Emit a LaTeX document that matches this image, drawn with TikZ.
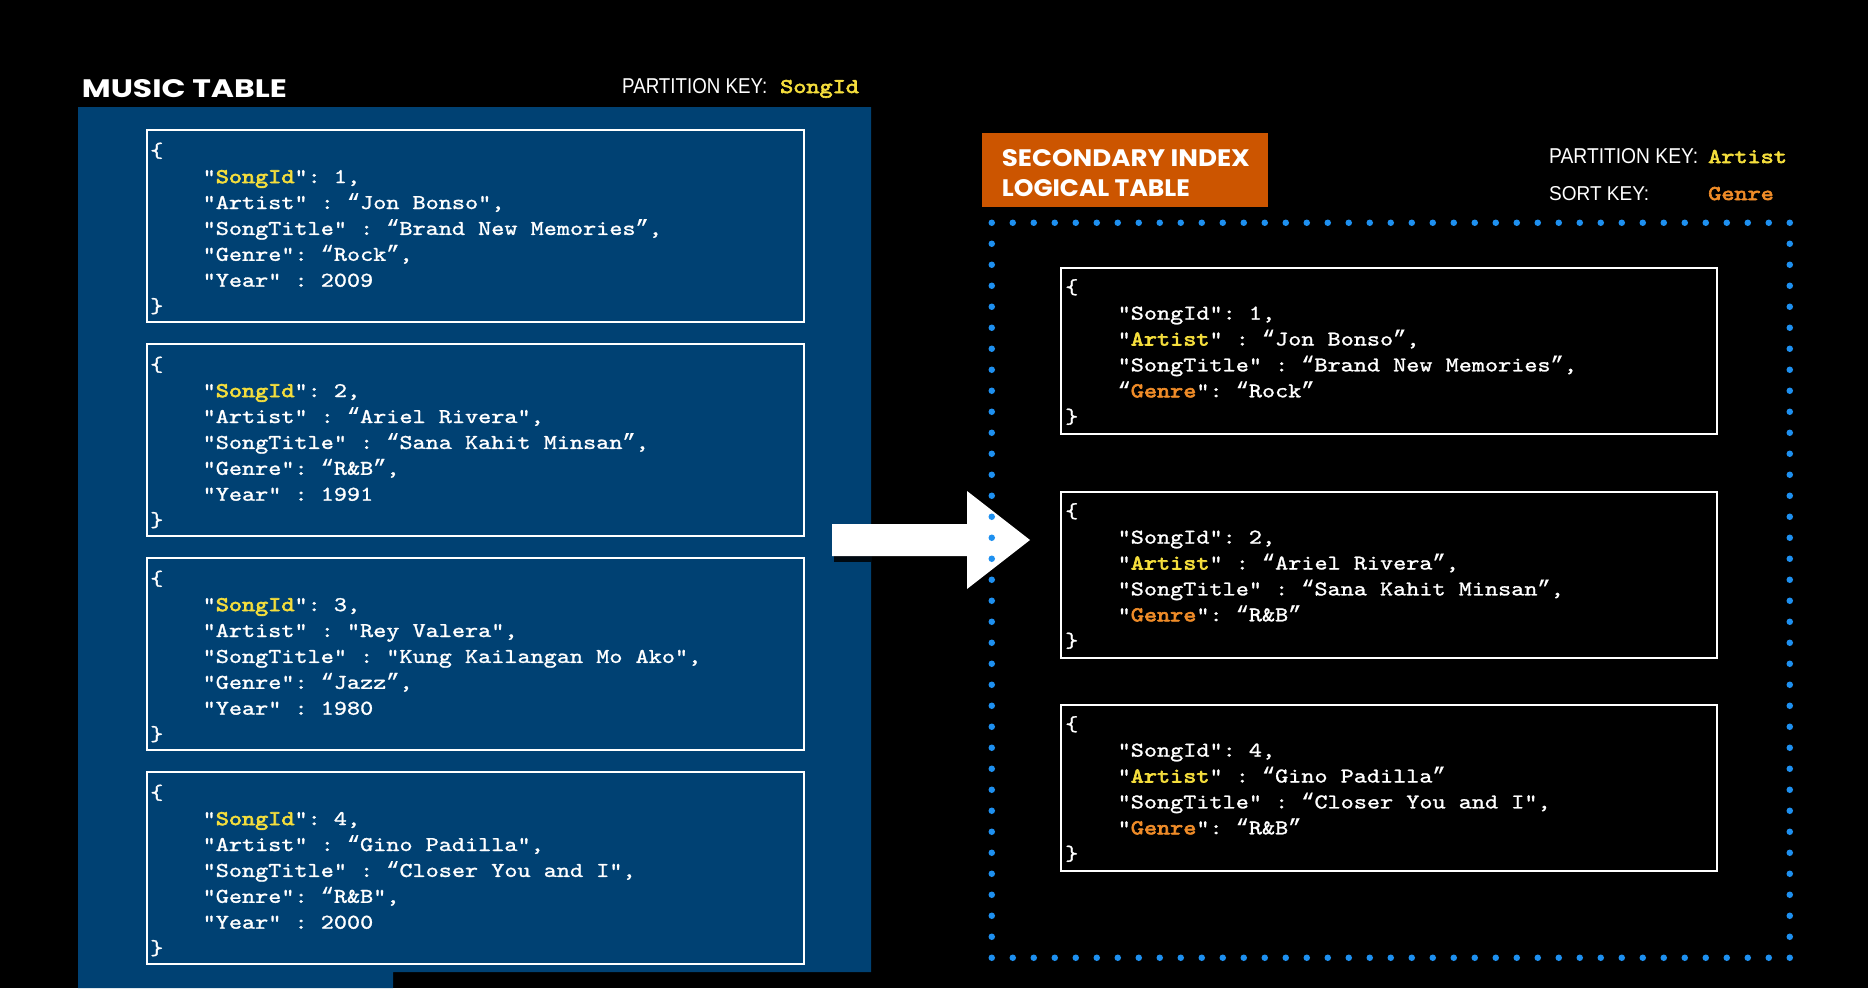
\documentclass[tikz,border=0pt]{standalone}
\usepackage{fontspec}
\newfontfamily\jmono{lmmono10-regular.otf}[FakeStretch=1.19, FakeBold=1.2]
\newfontfamily\jmonob{lmmono10-regular.otf}[FakeStretch=1.19, FakeBold=3]
\newfontfamily\qfont{Liberation Mono}[FakeBold=0.6]
\newfontfamily\hdr{Poppins}
\newfontfamily\hel{Liberation Sans}
\definecolor{panelblue}{RGB}{0,65,115}
\definecolor{keyy}{RGB}{245,222,60}
\definecolor{keyo}{RGB}{240,140,40}
\definecolor{boxorange}{RGB}{204,85,0}
\definecolor{dotblue}{RGB}{30,144,240}
\newcommand\ky[1]{\textcolor{keyy}{{\jmonob #1}}}
\newcommand\kg[1]{\textcolor{keyo}{{\jmonob #1}}}
\newcommand\oq{{\qfont\fontsize{21.85}{25.9}\selectfont “}}
\newcommand\cq{{\qfont\fontsize{21.85}{25.9}\selectfont ”}}
\newcommand\jstrut{\rule{0pt}{18pt}}
\newcommand\ind{\phantom{0000}}
\tikzset{
  jt/.style={anchor=north west, inner sep=0pt, align=left, text=white,
    font=\jmono\fontsize{21}{25.9}\selectfont\frenchspacing},
  lbox/.style={draw=white, line width=2.2pt, fill=panelblue, anchor=north west,
    minimum width=657pt, minimum height=192pt, inner sep=0pt},
  rbox/.style={draw=white, line width=2.4pt, fill=black, anchor=north west,
    minimum width=656pt, minimum height=166pt, inner sep=0pt},
  lbl/.style={anchor=base west, inner sep=0pt, text=white},
  keylbl/.style={anchor=base west, inner sep=0pt,
    font=\jmonob\fontsize{21}{26}\selectfont},
  obox/.style={fill=boxorange, anchor=north west, minimum width=286pt,
    minimum height=74.3pt, inner sep=0pt},
  dotbox/.style={draw=dotblue, dash pattern=on 0pt off 21pt, line cap=round,
    line width=6.5pt, anchor=north west, minimum width=798pt,
    minimum height=735pt, inner sep=0pt}
}
\begin{document}
\begin{tikzpicture}[x=1pt,y=-1pt]
\fill[black] (0,0) rectangle (1868,988);
\useasboundingbox (0,0) rectangle (1868,988);

% headers
\node[lbl] (mt) at (81.7,97) {\resizebox{205pt}{18pt}{\hdr\bfseries\fontsize{24}{24}\selectfont MUSIC TABLE}};
\node[lbl] (pk1) at (622,93) {\resizebox{145pt}{15pt}{\hel\fontsize{21}{21}\selectfont PARTITION KEY:}};
\node[keylbl, text=keyy] (pk1v) at (780,93) {SongId};

% blue panel
\fill[panelblue] (78,107) -- (871,107) -- (871,972) -- (393,972) -- (393,988) -- (78,988) -- cycle;

% left boxes
\node[lbox] (m1) at (146,129) {};
\node[lbox] (m2) at (146,343) {};
\node[lbox] (m3) at (146,557) {};
\node[lbox] (m4) at (146,771) {};

\node[jt] (m1t) at ([xshift=4pt,yshift=-10pt]m1.north west) {\jstrut\{\\
\ind"\ky{SongId}": 1,\\
\ind"Artist" : \oq Jon Bonso",\\
\ind"SongTitle" : \oq Brand New Memories\cq,\\
\ind"Genre": \oq Rock\cq,\\
\ind"Year" : 2009\\
\}};
\node[jt] (m2t) at ([xshift=4pt,yshift=-10pt]m2.north west) {\jstrut\{\\
\ind"\ky{SongId}": 2,\\
\ind"Artist" : \oq Ariel Rivera",\\
\ind"SongTitle" : \oq Sana Kahit Minsan\cq,\\
\ind"Genre": \oq R\&B\cq,\\
\ind"Year" : 1991\\
\}};
\node[jt] (m3t) at ([xshift=4pt,yshift=-10pt]m3.north west) {\jstrut\{\\
\ind"\ky{SongId}": 3,\\
\ind"Artist" : "Rey Valera",\\
\ind"SongTitle" : "Kung Kailangan Mo Ako",\\
\ind"Genre": \oq Jazz\cq,\\
\ind"Year" : 1980\\
\}};
\node[jt] (m4t) at ([xshift=4pt,yshift=-10pt]m4.north west) {\jstrut\{\\
\ind"\ky{SongId}": 4,\\
\ind"Artist" : \oq Gino Padilla",\\
\ind"SongTitle" : \oq Closer You and I",\\
\ind"Genre": \oq R\&B",\\
\ind"Year" : 2000\\
\}};

% arrow with shadow
\fill[black, opacity=0.85] (834,530) -- (871,530) -- (871,562) -- (834,562) -- cycle;
\fill[white] (832,524) -- (967,524) -- (967,491) -- (1030,540) -- (967,589) -- (967,556) -- (832,556) -- cycle;

% right side
\node[obox] (ob) at (981.7,132.7) {};
\node[lbl] (ob1) at (1001.7,166) {\resizebox{248pt}{17pt}{\hdr\bfseries\fontsize{24}{24}\selectfont SECONDARY INDEX}};
\node[lbl] (ob2) at (1001.7,196) {\resizebox{188pt}{17pt}{\hdr\bfseries\fontsize{24}{24}\selectfont LOGICAL TABLE}};

\node[lbl] (pk2) at (1549,163) {\resizebox{149pt}{15pt}{\hel\fontsize{21}{21}\selectfont PARTITION KEY:}};
\node[keylbl, text=keyy] (pk2v) at (1708,163) {Artist};
\node[lbl] (sk) at (1549,200) {\resizebox{100pt}{14pt}{\hel\fontsize{21}{21}\selectfont SORT KEY:}};
\node[keylbl, text=keyo] (skv) at (1708,200) {Genre};

\node[dotbox] (idx) at (988.5,219.5) {};

\node[rbox] (r1) at (1060,267) {};
\node[rbox] (r2) at (1060,491) {};
\node[rbox] (r3) at (1060,704) {};

\node[jt] (r1t) at ([xshift=5pt,yshift=-8.5pt]r1.north west) {\jstrut\{\\
\ind"SongId": 1,\\
\ind"\ky{Artist}" : \oq Jon Bonso\cq,\\
\ind"SongTitle" : \oq Brand New Memories\cq,\\
\ind\oq\kg{Genre}": \oq Rock\cq\\
\}};
\node[jt] (r2t) at ([xshift=5pt,yshift=-8.5pt]r2.north west) {\jstrut\{\\
\ind"SongId": 2,\\
\ind"\ky{Artist}" : \oq Ariel Rivera\cq,\\
\ind"SongTitle" : \oq Sana Kahit Minsan\cq,\\
\ind"\kg{Genre}": \oq R\&B\cq\\
\}};
\node[jt] (r3t) at ([xshift=5pt,yshift=-8.5pt]r3.north west) {\jstrut\{\\
\ind"SongId": 4,\\
\ind"\ky{Artist}" : \oq Gino Padilla\cq\\
\ind"SongTitle" : \oq Closer You and I",\\
\ind"\kg{Genre}": \oq R\&B\cq\\
\}};
\end{tikzpicture}
\end{document}
